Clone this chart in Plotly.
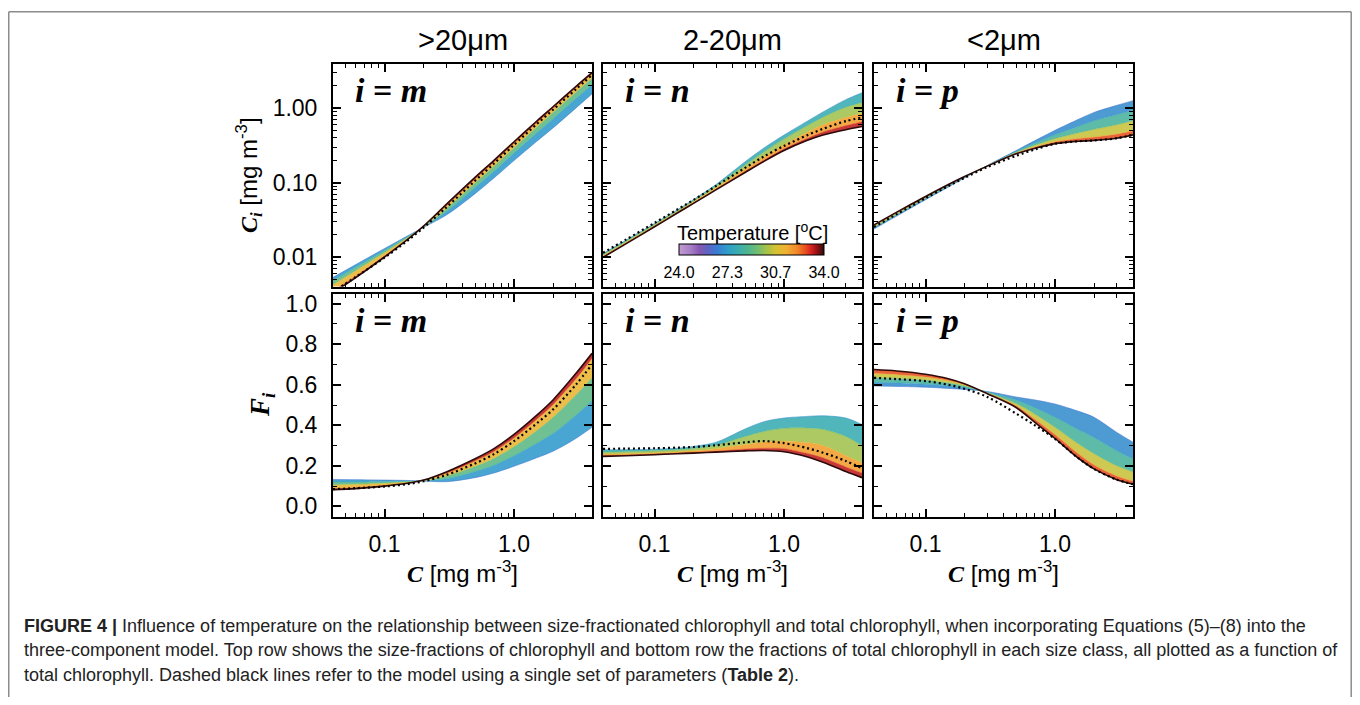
import math
import plotly.graph_objects as go

# ---------------- data ----------------
C_TOTAL = [0.04, 0.06, 0.1, 0.15, 0.2, 0.3, 0.5, 0.7, 1.0, 1.5, 2.0, 3.0, 4.0]

# >20 um (i = m): fractions F_m and concentrations C_m, by temperature
TEMPS_M = [26.5, 28.0, 30.0, 32.5, 34.0]
FI_M_T26_5 = [0.133, 0.132, 0.130, 0.128, 0.125, 0.122, 0.142, 0.165, 0.198, 0.240, 0.272, 0.335, 0.390]
FI_M_T28 = [0.120, 0.121, 0.122, 0.124, 0.126, 0.136, 0.172, 0.203, 0.250, 0.312, 0.360, 0.450, 0.520]
FI_M_T30 = [0.106, 0.109, 0.114, 0.120, 0.127, 0.150, 0.198, 0.238, 0.295, 0.375, 0.440, 0.550, 0.635]
FI_M_T32_5 = [0.088, 0.092, 0.103, 0.115, 0.129, 0.163, 0.224, 0.271, 0.338, 0.430, 0.502, 0.628, 0.730]
FI_M_T34 = [0.082, 0.088, 0.100, 0.114, 0.130, 0.170, 0.235, 0.285, 0.355, 0.450, 0.525, 0.655, 0.755]
FI_M_ONE = [0.085, 0.090, 0.098, 0.110, 0.124, 0.155, 0.212, 0.258, 0.322, 0.410, 0.478, 0.600, 0.700]
CI_M_T26_5 = [0.00532, 0.00792, 0.0130, 0.0192, 0.0250, 0.0366, 0.0710, 0.1155, 0.198, 0.360, 0.544, 1.005, 1.56]
CI_M_T28 = [0.00480, 0.00726, 0.0122, 0.0186, 0.0252, 0.0408, 0.0860, 0.1421, 0.250, 0.468, 0.720, 1.350, 2.08]
CI_M_T30 = [0.00424, 0.00654, 0.0114, 0.0180, 0.0254, 0.0450, 0.0990, 0.1666, 0.295, 0.5625, 0.880, 1.650, 2.54]
CI_M_T32_5 = [0.00352, 0.00552, 0.0103, 0.01725, 0.0258, 0.0489, 0.1120, 0.1897, 0.338, 0.645, 1.004, 1.884, 2.92]
CI_M_T34 = [0.00328, 0.00528, 0.0100, 0.0171, 0.0260, 0.0510, 0.1175, 0.1995, 0.355, 0.675, 1.050, 1.965, 3.02]
CI_M_ONE = [0.00340, 0.00540, 0.0098, 0.0165, 0.0248, 0.0465, 0.1060, 0.1806, 0.322, 0.615, 0.956, 1.800, 2.80]

# 2-20 um (i = n)
TEMPS_N = [27.0, 29.0, 31.0, 32.5, 34.0]
FI_N_T27 = [0.279, 0.280, 0.282, 0.287, 0.296, 0.317, 0.382, 0.418, 0.436, 0.444, 0.447, 0.436, 0.404]
FI_N_T29 = [0.268, 0.270, 0.274, 0.279, 0.286, 0.302, 0.345, 0.370, 0.385, 0.387, 0.380, 0.345, 0.300]
FI_N_T31 = [0.258, 0.260, 0.264, 0.269, 0.274, 0.285, 0.305, 0.318, 0.322, 0.315, 0.300, 0.250, 0.215]
FI_N_T32_5 = [0.250, 0.253, 0.258, 0.263, 0.267, 0.273, 0.283, 0.287, 0.285, 0.262, 0.240, 0.195, 0.165]
FI_N_T34 = [0.247, 0.250, 0.255, 0.260, 0.263, 0.268, 0.274, 0.276, 0.270, 0.245, 0.218, 0.172, 0.142]
FI_N_ONE = [0.284, 0.285, 0.287, 0.290, 0.293, 0.302, 0.316, 0.322, 0.312, 0.288, 0.265, 0.224, 0.188]
CI_N_T27 = [0.01116, 0.0168, 0.0282, 0.04305, 0.0592, 0.0951, 0.191, 0.2926, 0.436, 0.666, 0.894, 1.308, 1.616]
CI_N_T29 = [0.01072, 0.0162, 0.0274, 0.04185, 0.0572, 0.0906, 0.1725, 0.259, 0.385, 0.5805, 0.760, 1.035, 1.200]
CI_N_T31 = [0.01032, 0.0156, 0.0264, 0.04035, 0.0548, 0.0855, 0.1525, 0.2226, 0.322, 0.4725, 0.600, 0.750, 0.860]
CI_N_T32_5 = [0.01000, 0.01518, 0.0258, 0.03945, 0.0534, 0.0819, 0.1415, 0.2009, 0.285, 0.393, 0.480, 0.585, 0.660]
CI_N_T34 = [0.00988, 0.0150, 0.0255, 0.0390, 0.0526, 0.0804, 0.137, 0.1932, 0.270, 0.3675, 0.436, 0.516, 0.568]
CI_N_ONE = [0.01136, 0.0171, 0.0287, 0.0435, 0.0586, 0.0906, 0.158, 0.2254, 0.312, 0.432, 0.530, 0.672, 0.752]

# <2 um (i = p)
TEMPS_P = [26.5, 27.5, 29.5, 31.5, 34.0]
FI_P_T26_5 = [0.594, 0.592, 0.588, 0.582, 0.577, 0.567, 0.540, 0.525, 0.505, 0.470, 0.440, 0.365, 0.317]
FI_P_T27_5 = [0.612, 0.609, 0.603, 0.595, 0.585, 0.564, 0.525, 0.487, 0.440, 0.380, 0.340, 0.275, 0.235]
FI_P_T29_5 = [0.635, 0.631, 0.622, 0.609, 0.594, 0.561, 0.507, 0.455, 0.390, 0.310, 0.260, 0.200, 0.170]
FI_P_T31_5 = [0.655, 0.650, 0.638, 0.620, 0.600, 0.558, 0.497, 0.430, 0.355, 0.262, 0.205, 0.150, 0.125]
FI_P_T34 = [0.675, 0.668, 0.652, 0.630, 0.605, 0.556, 0.488, 0.414, 0.335, 0.240, 0.185, 0.132, 0.110]
FI_P_ONE = [0.634, 0.628, 0.618, 0.600, 0.580, 0.540, 0.458, 0.400, 0.333, 0.240, 0.185, 0.132, 0.110]
CI_P_T26_5 = [0.02376, 0.03552, 0.0588, 0.0873, 0.1154, 0.1701, 0.270, 0.3675, 0.505, 0.705, 0.880, 1.095, 1.268]
CI_P_T27_5 = [0.02448, 0.03654, 0.0603, 0.08925, 0.1170, 0.1692, 0.2625, 0.3409, 0.440, 0.570, 0.680, 0.825, 0.940]
CI_P_T29_5 = [0.02540, 0.03786, 0.0622, 0.09135, 0.1188, 0.1683, 0.2535, 0.3185, 0.390, 0.465, 0.520, 0.600, 0.680]
CI_P_T31_5 = [0.02620, 0.0390, 0.0638, 0.0930, 0.1200, 0.1674, 0.2485, 0.301, 0.355, 0.393, 0.410, 0.450, 0.500]
CI_P_T34 = [0.02700, 0.04008, 0.0652, 0.0945, 0.1210, 0.1668, 0.244, 0.2898, 0.335, 0.360, 0.370, 0.396, 0.440]
CI_P_ONE = [0.02536, 0.03768, 0.0618, 0.0900, 0.1160, 0.1620, 0.229, 0.280, 0.333, 0.360, 0.370, 0.396, 0.440]

COL_TITLES = ["&gt;20\u03bcm", "2-20\u03bcm", "&lt;2\u03bcm"]
PANEL_LETTERS = ["m", "n", "p"]
TEMP_MIN, TEMP_MAX = 24.0, 34.0
CBAR_TICKS = [24.0, 27.333, 30.667, 34.0]
CBAR_TICKTEXT = ["24.0", "27.3", "30.7", "34.0"]
X_TICKS = [0.1, 1.0]
X_TICKTEXT = ["0.1", "1.0"]
YTOP_TICKS = [0.01, 0.1, 1.0]
YTOP_TICKTEXT = ["0.01", "0.10", "1.00"]
YBOT_TICKS = [0.0, 0.2, 0.4, 0.6, 0.8, 1.0]

# ---------------- styling ----------------
CMAP_STOPS = [(24.0, '#c39bd3'), (24.8, '#a67fc4'), (25.4, '#8658b0'), (26.0, '#5c64c4'),
              (26.6, '#3c7ad2'), (27.3, '#2f9ccb'), (28.0, '#38acb2'), (28.8, '#50b68e'),
              (29.5, '#78bd6c'), (30.1, '#a9c247'), (30.7, '#d6c233'), (31.4, '#f1b033'),
              (32.1, '#f28a2a'), (32.7, '#e8521f'), (33.1, '#d82222'), (33.5, '#961212'),
              (34.0, '#2e0a0a')]


def hex_rgb(h):
    return tuple(int(h[i:i + 2], 16) for i in (1, 3, 5))


def color_at(t, alpha=1.0):
    t = max(TEMP_MIN, min(TEMP_MAX, t))
    for (t0, c0), (t1, c1) in zip(CMAP_STOPS[:-1], CMAP_STOPS[1:]):
        if t0 <= t <= t1:
            f = 0 if t1 == t0 else (t - t0) / (t1 - t0)
            a, b = hex_rgb(c0), hex_rgb(c1)
            r = [round(a[k] + (b[k] - a[k]) * f) for k in range(3)]
            return 'rgba(%d,%d,%d,%.2f)' % (r[0], r[1], r[2], alpha)
    return CMAP_STOPS[-1][1]


CSCALE = [[(t - TEMP_MIN) / (TEMP_MAX - TEMP_MIN), c] for t, c in CMAP_STOPS]

# the page body has an 8px margin, so the figure is drawn 8px in from the corner
OFF = 8
W, H = 1344, 689
COL_PX = [(333, 592), (603, 862), (874, 1133)]
ROW_PX = [(61, 286), (293, 518)]
SANS = "Liberation Sans, Arial, sans-serif"
SERIF = "Liberation Serif, Times New Roman, serif"


def fx(p):
    return (p - OFF) / W


def fy(p):
    return 1 - (p - OFF) / H


PANELS = [
    (0, 0, TEMPS_M, [CI_M_T26_5, CI_M_T28, CI_M_T30, CI_M_T32_5, CI_M_T34], CI_M_ONE),
    (0, 1, TEMPS_N, [CI_N_T27, CI_N_T29, CI_N_T31, CI_N_T32_5, CI_N_T34], CI_N_ONE),
    (0, 2, TEMPS_P, [CI_P_T26_5, CI_P_T27_5, CI_P_T29_5, CI_P_T31_5, CI_P_T34], CI_P_ONE),
    (1, 0, TEMPS_M, [FI_M_T26_5, FI_M_T28, FI_M_T30, FI_M_T32_5, FI_M_T34], FI_M_ONE),
    (1, 1, TEMPS_N, [FI_N_T27, FI_N_T29, FI_N_T31, FI_N_T32_5, FI_N_T34], FI_N_ONE),
    (1, 2, TEMPS_P, [FI_P_T26_5, FI_P_T27_5, FI_P_T29_5, FI_P_T31_5, FI_P_T34], FI_P_ONE),
]

fig = go.Figure()
layout = {}
annotations = []

x_minor = [0.05, 0.06, 0.07, 0.08, 0.09, 0.2, 0.3, 0.4, 0.5, 0.6, 0.7, 0.8, 0.9, 2, 3, 4]
y_minor_log = [0.005, 0.006, 0.007, 0.008, 0.009, 0.02, 0.03, 0.04, 0.05, 0.06, 0.07, 0.08, 0.09,
               0.2, 0.3, 0.4, 0.5, 0.6, 0.7, 0.8, 0.9, 2, 3, 4]
y_minor_lin = [0.1, 0.3, 0.5, 0.7, 0.9]


def ann(x, y, text, size, family=SANS, xanchor='center', yanchor='middle', **kw):
    d = dict(x=fx(x), y=fy(y), xref='paper', yref='paper', xanchor=xanchor, yanchor=yanchor,
             text=text, showarrow=False, font=dict(family=family, size=size, color='black'))
    d.update(kw)
    return d


for k, (row, col, temps, curves, single) in enumerate(PANELS, start=1):
    xa = 'x' if k == 1 else 'x%d' % k
    ya = 'y' if k == 1 else 'y%d' % k
    for j, (t, ys) in enumerate(zip(temps, curves)):
        fig.add_trace(go.Scatter(
            x=C_TOTAL, y=ys, mode='lines', xaxis=xa, yaxis=ya,
            line=dict(color=color_at(t, 0.9 if t < TEMP_MAX else 1.0),
                      width=1.6 if t >= TEMP_MAX else 0.6,
                      shape='spline', smoothing=0.9),
            fill=None if j == 0 else 'tonexty',
            fillcolor=color_at((temps[j - 1] + t) / 2, 0.88) if j > 0 else None,
            hoverinfo='skip', showlegend=False))
    fig.add_trace(go.Scatter(
        x=C_TOTAL, y=single, mode='lines', xaxis=xa, yaxis=ya,
        line=dict(color='black', width=2.2, dash='2px,3px', shape='spline', smoothing=0.9),
        hoverinfo='skip', showlegend=False))

    common = dict(showline=True, linecolor='black', linewidth=2, mirror='ticks',
                  ticks='inside', ticklen=8, tickwidth=1.5, tickcolor='black',
                  showgrid=False, zeroline=False,
                  tickfont=dict(family=SANS, size=23, color='black'))
    x0, x1 = COL_PX[col]
    y0, y1 = ROW_PX[row]
    xaxis = dict(common, type='log', range=[math.log10(0.04), math.log10(4.0)],
                 domain=[fx(x0), fx(x1)], anchor=ya,
                 tickmode='array', tickvals=X_TICKS, ticktext=X_TICKTEXT,
                 showticklabels=(row == 1), ticklabelstandoff=6,
                 minor=dict(tickmode='array', tickvals=x_minor, ticks='inside',
                            ticklen=4, tickwidth=1.2, tickcolor='black', showgrid=False))
    if row == 0:
        yaxis = dict(common, type='log', range=[math.log10(0.004), math.log10(4.0)],
                     tickmode='array', tickvals=YTOP_TICKS, ticktext=YTOP_TICKTEXT,
                     minor=dict(tickmode='array', tickvals=y_minor_log, ticks='inside',
                                ticklen=4, tickwidth=1.2, tickcolor='black', showgrid=False))
    else:
        yaxis = dict(common, type='linear', range=[-0.05, 1.05],
                     tickmode='array', tickvals=YBOT_TICKS,
                     ticktext=['%.1f' % v for v in YBOT_TICKS],
                     minor=dict(tickmode='array', tickvals=y_minor_lin, ticks='inside',
                                ticklen=4, tickwidth=1.2, tickcolor='black', showgrid=False))
    yaxis.update(domain=[fy(y1), fy(y0)], anchor=xa, showticklabels=(col == 0),
                 ticklabelstandoff=9)
    layout['xaxis' if k == 1 else 'xaxis%d' % k] = xaxis
    layout['yaxis' if k == 1 else 'yaxis%d' % k] = yaxis

    # panel label
    annotations.append(ann(x0 + 20, y0 + 27, '<b><i>i</i> = <i>%s</i></b>' % PANEL_LETTERS[col],
                           34, family=SERIF, xanchor='left'))

# column titles and x titles
for col in range(3):
    x0, x1 = COL_PX[col]
    annotations.append(ann((x0 + x1) / 2, 37, COL_TITLES[col], 29))
    annotations.append(ann((x0 + x1) / 2, 574,
                           '<span style="font-family:Liberation Serif"><b><i>C</i></b></span>'
                           ' [mg m<sup>-3</sup>]', 24))

# y titles
annotations.append(ann(249, 173.5,
                       '<span style="font-family:Liberation Serif"><b><i>C</i></b>'
                       '<sub><b><i>i</i></b></sub></span> [mg m<sup>-3</sup>]', 24, textangle=-90))
annotations.append(ann(262, 405.5, '<b><i>F</i></b><sub><b><i>i</i></b></sub>', 27,
                       family=SERIF, textangle=-90))

# colour bar title
annotations.append(ann(752, 230, 'Temperature [<sup>o</sup>C]', 20))

# caption
CAPTION = [
    '<b>FIGURE 4 |</b> Influence of temperature on the relationship between size-fractionated chlorophyll '
    'and total chlorophyll, when incorporating Equations (5)\u2013(8) into the',
    'three-component model. Top row shows the size-fractions of chlorophyll and bottom row the fractions '
    'of total chlorophyll in each size class, all plotted as a function of',
    'total chlorophyll. Dashed black lines refer to the model using a single set of parameters '
    '(<b>Table 2</b>).',
]
for i, line in enumerate(CAPTION):
    c = ann(22, 628 + 25 * i, line, 18, xanchor='left')
    c['font']['color'] = '#222'
    annotations.append(c)

# colour bar via dummy trace
fig.add_trace(go.Scatter(
    x=[None], y=[None], mode='markers', xaxis='x2', yaxis='y2', showlegend=False,
    marker=dict(color=[TEMP_MIN], cmin=TEMP_MIN, cmax=TEMP_MAX, colorscale=CSCALE, showscale=True,
                colorbar=dict(orientation='h', x=fx(751.5), xanchor='center',
                              y=fy(243.5), yanchor='top', lenmode='pixels', len=145,
                              thicknessmode='pixels', thickness=11, outlinewidth=1,
                              outlinecolor='black', xpad=0, ypad=0,
                              tickmode='array', tickvals=CBAR_TICKS, ticktext=CBAR_TICKTEXT,
                              ticks='outside', ticklen=4, tickcolor='rgba(0,0,0,0)',
                              tickfont=dict(family=SANS, size=16, color='black')))))

GREY = dict(color='#8c8c8c', width=1.5)
shapes = [
    dict(type='line', xref='paper', yref='paper', x0=fx(8.75), x1=fx(1351.2), y0=fy(8.75),
         y1=fy(8.75), line=GREY),
    dict(type='line', xref='paper', yref='paper', x0=fx(8.75), x1=fx(8.75), y0=fy(8.75),
         y1=fy(720), line=GREY),
    dict(type='line', xref='paper', yref='paper', x0=fx(1351.2), x1=fx(1351.2), y0=fy(8.75),
         y1=fy(720), line=GREY),
]

fig.update_layout(width=W, height=H, margin=dict(l=0, r=0, t=0, b=0),
                  paper_bgcolor='white', plot_bgcolor='white',
                  annotations=annotations, shapes=shapes, **layout)
fig.write_html("out.html")
